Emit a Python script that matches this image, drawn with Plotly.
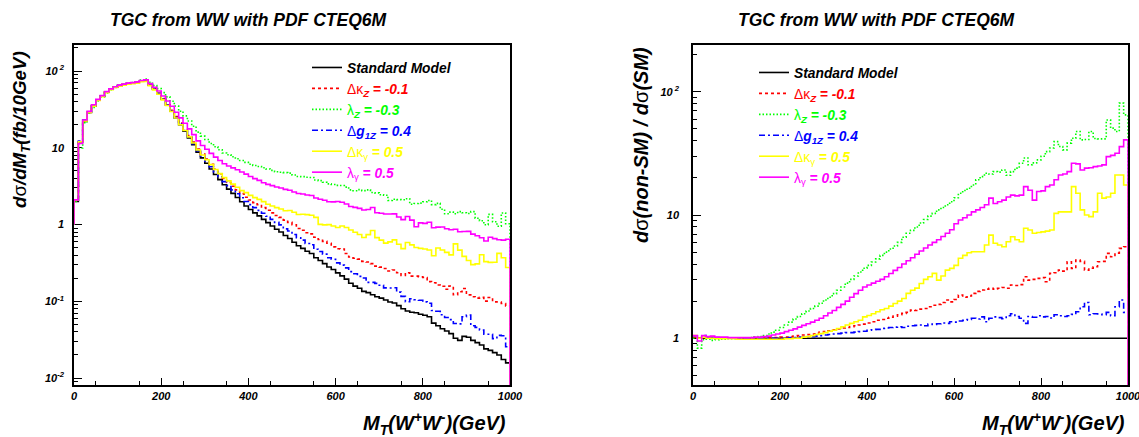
import plotly.graph_objects as go

# ---- data: 10 GeV bins of M_T(WW), 0..1000 GeV ----
bin_lo = list(range(0, 1000, 10))

# Standard Model dsigma/dM_T (fb/10GeV)
sm = [2, 12, 22, 29, 35, 42, 47, 53, 58, 62,
      65, 67, 69, 70, 71, 74, 75, 66, 58, 51,
      43, 36, 30, 24.5, 20, 16.5, 13.5, 11, 8.8, 7.4,
      6.3, 5.3, 4.5, 3.85, 3.3, 2.9, 2.55, 2.25, 1.98, 1.75,
      1.57, 1.42, 1.30, 1.17, 1.06, 0.96, 0.87, 0.80, 0.72, 0.66,
      0.59, 0.53, 0.49, 0.45, 0.42, 0.37, 0.34, 0.31, 0.28, 0.26,
      0.235, 0.215, 0.195, 0.172, 0.158, 0.148, 0.135, 0.130, 0.122, 0.115,
      0.110, 0.104, 0.098, 0.095, 0.088, 0.080, 0.075, 0.072, 0.071, 0.068,
      0.066, 0.063, 0.052, 0.048, 0.044, 0.041, 0.038, 0.033, 0.031, 0.035,
      0.034, 0.031, 0.029, 0.027, 0.024, 0.023, 0.0215, 0.020, 0.0175, 0.0158]

# ratios non-SM / SM
ratio_dkz = [1.02, 1.0, 1.01, 1.0, 1.0, 1.0, 1.0, 1.0, 1.0, 1.0,
             1.0, 1.0, 1.0, 1.0, 1.0, 1.0, 1.01, 1.01, 1.01, 1.01,
             1.02, 1.02, 1.03, 1.04, 1.05, 1.06, 1.07, 1.08, 1.10, 1.12,
             1.13, 1.15, 1.17, 1.19, 1.21, 1.22, 1.24, 1.26, 1.28, 1.30,
             1.33, 1.36, 1.40, 1.42, 1.45, 1.48, 1.51, 1.55, 1.59, 1.62,
             1.69, 1.68, 1.72, 1.74, 1.80, 1.85, 1.88, 1.95, 2.04, 1.97,
             2.06, 2.24, 2.15, 2.2, 2.31, 2.4, 2.46, 2.5, 2.54, 2.5,
             2.54, 2.58, 2.54, 2.70, 2.68, 2.72, 3.15, 2.96, 3.0, 3.06,
             3.1, 2.87, 3.36, 3.4, 3.57, 3.5, 4.17, 3.69, 4.31, 4.2,
             3.57, 3.7, 3.8, 4.17, 4.2, 4.88, 4.58, 4.9, 5.36, 5.52]

ratio_lz = [1.0, 0.83, 0.97, 0.98, 0.96, 0.97, 0.98, 0.98, 0.99, 0.99,
            1.0, 1.0, 1.0, 1.01, 1.02, 1.03, 1.05, 1.08, 1.12, 1.16,
            1.22, 1.28, 1.35, 1.43, 1.5, 1.58, 1.66, 1.74, 1.82, 1.92,
            2.04, 2.15, 2.3, 2.45, 2.6, 2.8, 3.0, 3.2, 3.45, 3.7,
            3.9, 4.15, 4.4, 4.7, 5.0, 5.3, 5.6, 6.0, 6.6, 7.1,
            7.5, 8.0, 8.6, 9.2, 9.8, 10.3, 11.0, 11.5, 12.1, 12.8,
            13.8, 15.0, 15.8, 16.5, 17.5, 19.3, 20.5, 21.8, 21.5, 22.5,
            22.3, 23.2, 21.0, 22.5, 24.0, 26.3, 29.0, 25.6, 26.5, 28.0,
            30.0, 32.7, 35.0, 39.4, 36.0, 33.8, 38.3, 42.0, 47.6, 40.7,
            41.0, 47.6, 41.8, 41.5, 41.5, 59.0, 50.7, 47.6, 81.0, 65.0]

ratio_dg1z = [1.04, 1.02, 1.05, 1.02, 1.01, 1.01, 1.0, 1.0, 1.0, 1.0,
              1.0, 1.0, 1.0, 1.0, 1.0, 1.0, 1.0, 1.0, 1.0, 1.0,
              1.0, 1.0, 1.01, 1.01, 1.02, 1.02, 1.03, 1.03, 1.04, 1.05,
              1.06, 1.07, 1.08, 1.09, 1.10, 1.11, 1.11, 1.12, 1.13, 1.14,
              1.16, 1.17, 1.18, 1.20, 1.21, 1.22, 1.23, 1.24, 1.22, 1.25,
              1.26, 1.27, 1.28, 1.26, 1.30, 1.29, 1.31, 1.33, 1.32, 1.36,
              1.35, 1.38, 1.40, 1.42, 1.45, 1.43, 1.49, 1.36, 1.45, 1.49,
              1.47, 1.44, 1.52, 1.58, 1.50, 1.45, 1.32, 1.50, 1.48, 1.52,
              1.49, 1.50, 1.46, 1.55, 1.52, 1.50, 1.52, 1.56, 1.64, 1.80,
              1.95, 1.55, 1.58, 1.57, 1.55, 1.62, 1.52, 1.80, 2.04, 1.62]

ratio_dkg = [1.05, 1.0, 1.02, 1.0, 1.0, 0.99, 0.99, 0.99, 0.99, 0.99,
             0.98, 0.98, 0.98, 0.98, 0.98, 0.98, 0.98, 0.98, 0.98, 0.98,
             0.98, 0.99, 0.99, 1.0, 1.0, 1.02, 1.03, 1.05, 1.07, 1.09,
             1.11, 1.14, 1.16, 1.2, 1.24, 1.28, 1.32, 1.36, 1.4, 1.49,
             1.53, 1.58, 1.64, 1.70, 1.74, 1.82, 1.91, 2.0, 2.1, 2.31,
             2.45, 2.55, 2.78, 3.0, 3.15, 3.36, 2.96, 3.2, 3.57, 3.69,
             3.9, 4.45, 4.7, 4.94, 5.03, 5.03, 5.03, 5.7, 6.87, 5.89,
             5.7, 5.52, 6.07, 6.66, 6.3, 6.07, 7.8, 7.55, 7.1, 7.2,
             7.3, 7.4, 7.55, 10.3, 10.6, 10.6, 10.6, 17.0, 15.0, 11.0,
             10.0, 9.7, 10.6, 15.0, 13.7, 14.0, 15.0, 21.1, 21.1, 17.5]

ratio_lg = [1.05, 0.95, 1.05, 1.03, 1.04, 1.02, 1.02, 1.02, 1.01, 1.01,
            1.01, 1.01, 1.01, 1.01, 1.02, 1.02, 1.03, 1.04, 1.06, 1.08,
            1.10, 1.13, 1.16, 1.19, 1.23, 1.27, 1.31, 1.35, 1.40, 1.45,
            1.52, 1.60, 1.68, 1.78, 1.88, 2.0, 2.15, 2.3, 2.45, 2.6,
            2.7, 2.8, 2.9, 3.0, 3.15, 3.35, 3.55, 3.75, 4.0, 4.25,
            4.5, 4.8, 5.1, 5.4, 5.7, 6.0, 6.3, 6.7, 7.1, 7.6,
            8.5, 9.1, 9.5, 10.0, 10.6, 11.0, 11.5, 12.1, 13.7, 12.4,
            12.8, 13.2, 14.0, 14.5, 14.3, 14.5, 17.0, 15.9, 13.2, 15.5,
            15.7, 17.0, 17.5, 19.3, 21.1, 21.5, 22.5, 26.3, 26.0, 23.2,
            24.0, 24.2, 24.7, 25.0, 25.5, 29.8, 30.5, 31.7, 35.9, 40.7]

W, H = 1139, 437
FONT = "Liberation Sans"

def bi(s):
    return "<b><i>" + s + "</i></b>"

def span(color, s):
    return "<span style='color:%s'>%s</span>" % (color, s)

series = [
    ("Standard Model", "#000000", "solid", None,
     bi("Standard Model")),
    ("dkz", "#ff0000", "3px,3px", ratio_dkz,
     span("#ff0000", "Δκ" + bi("<sub>Z</sub> = -0.1"))),
    ("lz", "#00ff00", "1.5px,2px", ratio_lz,
     span("#00ff00", "λ" + bi("<sub>Z</sub> = -0.3"))),
    ("dg1z", "#0000ff", "6px,3px,2px,3px", ratio_dg1z,
     span("#0000ff", "Δ" + bi("g<sub>1Z</sub> = 0.4"))),
    ("dkg", "#ffff00", "solid", ratio_dkg,
     span("#ffff00", "Δκ<sub>γ</sub>" + bi(" = 0.5"))),
    ("lg", "#ff00ff", "solid", ratio_lg,
     span("#ff00ff", "λ<sub>γ</sub>" + bi(" = 0.5"))),
]

fig = go.Figure()
x_steps = [0] + bin_lo + [1000, 1000]
for key, col, dash, ratio, label in series:
    if ratio is None:
        left_vals = list(sm)
        right_vals = [s / s for s in sm]
    else:
        left_vals = [s * r for s, r in zip(sm, ratio)]
        right_vals = list(ratio)
    fig.add_trace(go.Scatter(
        x=x_steps, y=[1] + left_vals + [left_vals[-1], 1e-4],
        mode="lines", line=dict(color=col, width=1.6, dash=dash, shape="hv"),
        name=label, legend="legend", xaxis="x", yaxis="y", hoverinfo="skip"))
    fig.add_trace(go.Scatter(
        x=x_steps, y=[right_vals[0]] + right_vals + [right_vals[-1], 1e-4],
        mode="lines", line=dict(color=col, width=1.6, dash=dash, shape="hv"),
        name=label, legend="legend2", xaxis="x2", yaxis="y2", hoverinfo="skip"))

xticks = [0, 200, 400, 600, 800, 1000]
xtext = [bi(str(v)) for v in xticks]
minor_log = [m * 10.0 ** e for e in range(-3, 3) for m in range(2, 10)]

def xaxis(domain):
    return dict(domain=domain, range=[0, 1000], showgrid=False, zeroline=False,
                showline=True, linecolor="black", linewidth=1.5, mirror=True,
                ticks="inside", ticklen=7, tickwidth=1, tickcolor="black",
                tickmode="array", tickvals=xticks, ticktext=xtext,
                tickfont=dict(family=FONT, size=11, color="black"),
                ticklabeloverflow="allow",
                minor=dict(ticks="inside", ticklen=4, tickwidth=1, tickcolor="black",
                           tickmode="array", tickvals=list(range(50, 1000, 100))),
                layer="below traces", automargin=False)

def yaxis(domain, rng, vals, texts, anchor, standoff):
    return dict(domain=domain, type="log", range=rng, anchor=anchor,
                showgrid=False, zeroline=False,
                showline=True, linecolor="black", linewidth=1.5, mirror=True,
                ticks="inside", ticklen=8, tickwidth=1, tickcolor="black",
                tickmode="array", tickvals=vals, ticktext=texts,
                ticklabelstandoff=standoff,
                tickfont=dict(family=FONT, size=11, color="black"),
                minor=dict(ticks="inside", ticklen=4, tickwidth=1, tickcolor="black",
                           tickmode="array", tickvals=minor_log),
                layer="below traces", automargin=False)

ydom = [1 - 385 / H, 1 - 45 / H]
fig.update_layout(
    width=W, height=H, margin=dict(l=0, r=0, t=0, b=0),
    paper_bgcolor="white", plot_bgcolor="white",
    font=dict(family=FONT, color="black"),
    xaxis=dict(xaxis([74 / W, 510 / W]), anchor="y"),
    xaxis2=dict(xaxis([693 / W, 1128 / W]), anchor="y2"),
    yaxis=yaxis(ydom, [-2.09, 2.34], [0.01, 0.1, 1, 10, 100],
                [bi("10<sup>-2</sup>"), bi("10<sup>-1</sup>"), bi("1"), bi("10"), bi("10<sup> 2</sup>")],
                "x", 6),
    yaxis2=yaxis(ydom, [-0.38, 2.38], [1, 10, 100],
                 [bi("1"), bi("10"), bi("10<sup> 2</sup>")], "x2", 10),
    legend=dict(x=307 / W, y=1 - 52 / H, xanchor="left", yanchor="top",
                bgcolor="rgba(0,0,0,0)", font=dict(family=FONT, size=13.8),
                tracegroupgap=0, itemwidth=30),
    legend2=dict(x=754 / W, y=1 - 57 / H, xanchor="left", yanchor="top",
                 bgcolor="rgba(0,0,0,0)", font=dict(family=FONT, size=13.8),
                 tracegroupgap=0, itemwidth=30),
    showlegend=True,
)

ann = []
title = bi("TGC from WW with PDF CTEQ6M")
for cx in (248, 876):
    ann.append(dict(text=title, x=cx / W, y=1 - 20 / H, xref="paper", yref="paper",
                    xanchor="center", yanchor="middle", showarrow=False,
                    font=dict(family=FONT, size=17.5, color="black")))
xt = bi("M<sub>T</sub>(W<sup>+</sup>W<sup>-</sup>)(GeV)")
for rx in (508, 1127):
    ann.append(dict(text=xt, x=rx / W, y=1 - 423 / H, xref="paper", yref="paper",
                    xanchor="right", yanchor="middle", showarrow=False,
                    font=dict(family=FONT, size=20, color="black")))
ann.append(dict(text=bi("d") + "σ" + bi("/dM<sub>T</sub>(fb/10GeV)"),
                x=21 / W, y=1 - 130 / H, xref="paper", yref="paper",
                xanchor="center", yanchor="middle", textangle=-90, showarrow=False,
                font=dict(family=FONT, size=18.7, color="black")))
ann.append(dict(text=bi("d") + "σ" + bi("(non-SM) / d") + "σ" + bi("(SM)"),
                x=641 / W, y=1 - 145 / H, xref="paper", yref="paper",
                xanchor="center", yanchor="middle", textangle=-90, showarrow=False,
                font=dict(family=FONT, size=20, color="black")))
fig.update_layout(annotations=ann)

fig.write_html("out.html", config={"displayModeBar": False},
               post_script="document.body.style.margin='0px';")
